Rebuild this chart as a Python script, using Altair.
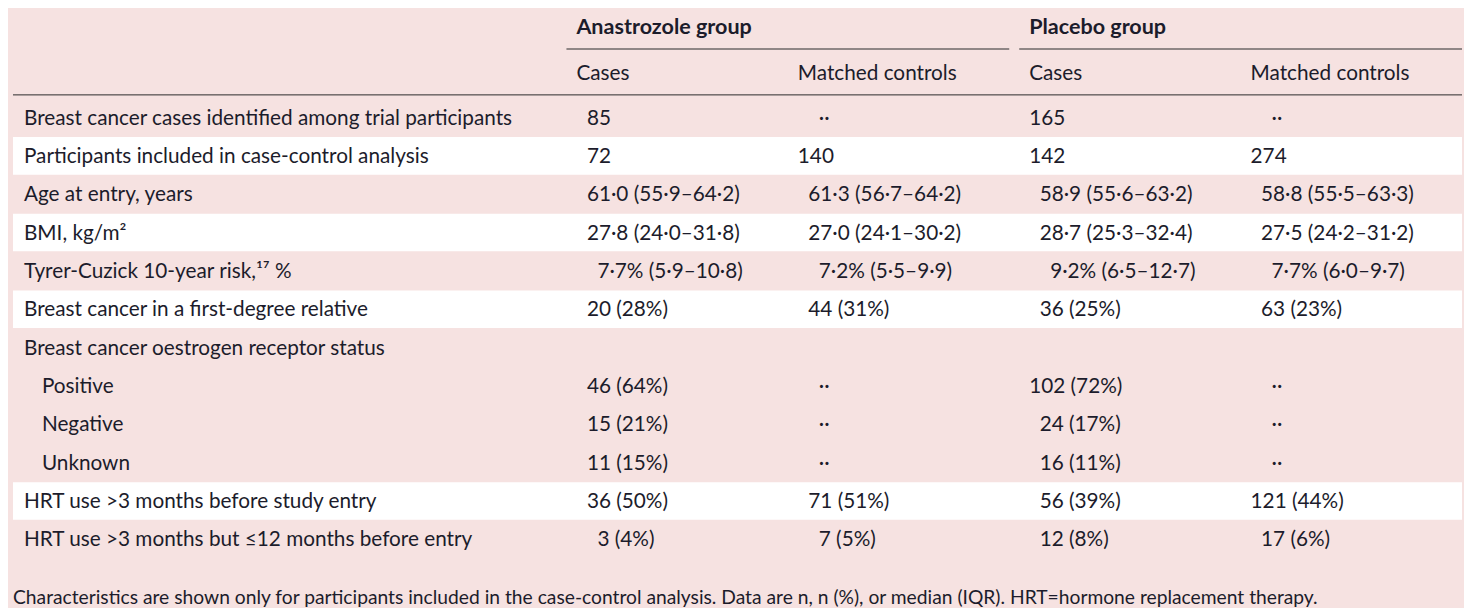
import re
import altair as alt
import pandas as pd

# ---------------- data ----------------
row_labels = [
    "Breast cancer cases identified among trial participants",
    "Participants included in case-control analysis",
    "Age at entry, years",
    "BMI, kg/m²",
    "Tyrer-Cuzick 10-year risk,¹⁷ %",
    "Breast cancer in a first-degree relative",
    "Breast cancer oestrogen receptor status",
    "Positive",
    "Negative",
    "Unknown",
    "HRT use >3 months before study entry",
    "HRT use >3 months but ≤12 months before entry",
]
sub_rows = ["Positive", "Negative", "Unknown"]
anastrozole_cases = ["85", "72", "61·0 (55·9–64·2)", "27·8 (24·0–31·8)", "7·7% (5·9–10·8)",
                     "20 (28%)", "", "46 (64%)", "15 (21%)", "11 (15%)", "36 (50%)", "3 (4%)"]
anastrozole_controls = ["··", "140", "61·3 (56·7–64·2)", "27·0 (24·1–30·2)", "7·2% (5·5–9·9)",
                        "44 (31%)", "", "··", "··", "··", "71 (51%)", "7 (5%)"]
placebo_cases = ["165", "142", "58·9 (55·6–63·2)", "28·7 (25·3–32·4)", "9·2% (6·5–12·7)",
                 "36 (25%)", "", "102 (72%)", "24 (17%)", "16 (11%)", "56 (39%)", "12 (8%)"]
placebo_controls = ["··", "274", "58·8 (55·5–63·3)", "27·5 (24·2–31·2)", "7·7% (6·0–9·7)",
                    "63 (23%)", "", "··", "··", "··", "121 (44%)", "17 (6%)"]
group_names = ["Anastrozole group", "Placebo group"]
sub_headers = ["Cases", "Matched controls", "Cases", "Matched controls"]
footnote = ("Characteristics are shown only for participants included in the case-control analysis. "
            "Data are n, n (%), or median (IQR). HRT=hormone replacement therapy.")

# ---------------- layout / style ----------------
W, H = 1460, 600
ROW0, ROW_H = 109.0, 38.45          # centre of first body row and row pitch (px)
def u(px):                           # px -> row units
    return (px - ROW0) / ROW_H

Y_GROUP, Y_SUB, Y_NOTE = u(18), u(64), u(590)
Y_RULE_GROUP, Y_RULE_HEAD = u(40.3), u(86.3)
X_LABEL, X_SUBLABEL, X_NOTE = 16, 34, 5
X_COLS = [570, 792, 1024, 1246]
X_TABLE = (5, 1458)
X_GROUP_RULES = [(560, 1004), (1014, 1458)]
BAND_HALF = 0.49
FIGURE_W = 10.5                      # width of one figure, used to align integer parts

FONT = "Lato"
FS = 20.8
FS_HEAD = 21.6
FS_NOTE = 19.3
INK = "#1c1c2b"
BG = "#f6e2e1"


def n_pad(s):
    """Number of figure widths needed to right-align the integer part to three figures."""
    if s.startswith("··"):
        return 2
    return 3 - len(re.match(r"\d+", s).group())


# ---------------- tables ----------------
labels_df = pd.DataFrame({
    "x": [X_SUBLABEL if l in sub_rows else X_LABEL for l in row_labels],
    "y": list(range(len(row_labels))),
    "text": row_labels,
})

vals = []
for cx, col in zip(X_COLS, [anastrozole_cases, anastrozole_controls, placebo_cases, placebo_controls]):
    for i, s in enumerate(col):
        if s:
            vals.append({"x": cx + n_pad(s) * FIGURE_W, "y": i, "text": s})
vals_df = pd.DataFrame(vals)

groups_df = pd.DataFrame({"x": [X_COLS[0], X_COLS[2]], "y": [Y_GROUP] * 2, "text": group_names})
subs_df = pd.DataFrame({"x": X_COLS, "y": [Y_SUB] * 4, "text": sub_headers})
note_df = pd.DataFrame({"x": [X_NOTE], "y": [Y_NOTE], "text": [footnote]})

# alternate shading by top-level item (sub rows share their parent's shade)
bands, item = [], -1
for i, l in enumerate(row_labels):
    if l not in sub_rows:
        item += 1
    if item % 2 == 1:
        bands.append({"x0": X_TABLE[0], "x1": X_TABLE[1], "y0": i - BAND_HALF, "y1": i + BAND_HALF})
bands_df = pd.DataFrame(bands)

rules_df = pd.DataFrame([
    {"x0": X_GROUP_RULES[0][0], "x1": X_GROUP_RULES[0][1], "y": Y_RULE_GROUP},
    {"x0": X_GROUP_RULES[1][0], "x1": X_GROUP_RULES[1][1], "y": Y_RULE_GROUP},
    {"x0": X_TABLE[0], "x1": X_TABLE[1], "y": Y_RULE_HEAD},
])

# ---------------- chart ----------------
xs = alt.Scale(domain=[0, W], range=[0, W], nice=False, zero=False)
ys = alt.Scale(domain=[u(0), u(H)], range=[0, H], nice=False, zero=False)


def X(f):
    return alt.X(f, type="quantitative", scale=xs, axis=None)


def Y(f):
    return alt.Y(f, type="quantitative", scale=ys, axis=None)


def text_layer(df, size=FS, weight="normal"):
    return alt.Chart(df).mark_text(
        align="left", baseline="middle", font=FONT, fontSize=size, fontWeight=weight,
        color=INK, dy=1
    ).encode(x=X("x"), y=Y("y"), text="text:N")


band_layer = alt.Chart(bands_df).mark_rect(color="white").encode(
    x=X("x0"), x2="x1", y=Y("y0"), y2="y1")
rule_layer = alt.Chart(rules_df).mark_rule(color="#2b2b2b", strokeWidth=1).encode(
    x=X("x0"), x2="x1", y=Y("y"))

chart = alt.layer(
    band_layer,
    rule_layer,
    text_layer(labels_df),
    text_layer(vals_df),
    text_layer(groups_df, size=FS_HEAD, weight="bold"),
    text_layer(subs_df),
    text_layer(note_df, size=FS_NOTE),
).properties(
    width=W, height=H, padding=0, background=BG,
    autosize=alt.AutoSizeParams(type="none"),
).configure_view(stroke=None)

chart.save("out.html", embed_options={"renderer": "svg", "actions": False})
